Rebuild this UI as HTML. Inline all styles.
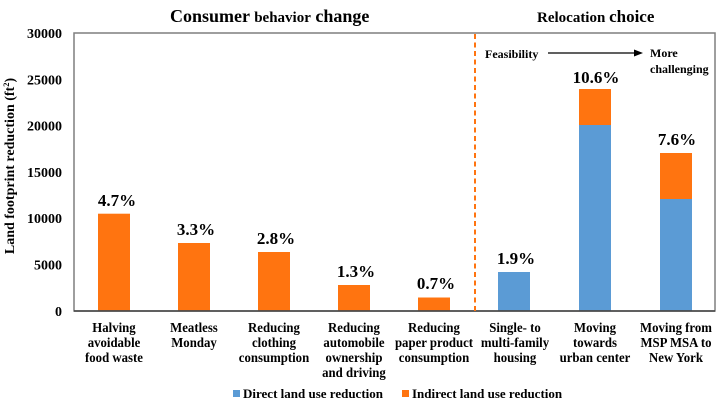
<!DOCTYPE html>
<html><head><meta charset="utf-8"><style>
html,body{margin:0;padding:0;background:#fff;}
svg{display:block;}
text{font-family:"Liberation Serif",serif;font-weight:bold;fill:#000;}
</style></head><body>
<svg width="720" height="404" viewBox="0 0 720 404" xmlns="http://www.w3.org/2000/svg">
<rect x="0" y="0" width="720" height="404" fill="#fff"/>
<!-- titles -->
<text x="170" y="22" font-size="18">Consumer <tspan font-size="15">behavior</tspan> change</text>
<text x="537" y="22" font-size="15">Relocation <tspan font-size="17">choice</tspan></text>
<!-- bars -->
<g fill="#FF7410">
<rect x="98" y="213.7" width="32" height="97.3"/>
<rect x="178" y="243" width="32" height="68"/>
<rect x="258" y="252" width="32" height="59"/>
<rect x="338" y="285" width="32" height="26"/>
<rect x="418" y="297.5" width="32" height="13.5"/>
<rect x="579" y="89" width="32" height="36"/>
<rect x="660" y="153" width="32" height="46"/>
</g>
<g fill="#5B9BD5">
<rect x="498" y="272" width="32" height="39"/>
<rect x="579" y="125" width="32" height="186"/>
<rect x="660" y="199" width="32" height="112"/>
</g>
<!-- frame -->
<rect x="74" y="33" width="641" height="278" fill="none" stroke="#7f7f7f" stroke-width="1.5"/>
<line x1="74" y1="311" x2="715" y2="311" stroke="#404040" stroke-width="1.5"/>
<!-- dashed divider -->
<line x1="475" y1="34" x2="475" y2="311" stroke="#FF7410" stroke-width="2" stroke-dasharray="5,3.5"/>
<!-- y ticks -->
<g font-size="14" text-anchor="end">
<text x="62" y="38">30000</text>
<text x="62" y="84.5">25000</text>
<text x="62" y="130.5">20000</text>
<text x="62" y="177">15000</text>
<text x="62" y="223">10000</text>
<text x="62" y="269.5">5000</text>
<text x="62" y="316">0</text>
</g>
<!-- y axis title -->
<text transform="translate(14,166) rotate(-90)" font-size="14" text-anchor="middle">Land footprint reduction (ft<tspan font-size="8.5" dy="-5">2</tspan><tspan dy="5">)</tspan></text>
<!-- percent labels -->
<g font-size="17" text-anchor="middle">
<text x="117" y="206">4.7%</text>
<text x="196" y="235">3.3%</text>
<text x="276" y="244">2.8%</text>
<text x="356" y="277">1.3%</text>
<text x="436" y="289">0.7%</text>
<text x="516" y="264">1.9%</text>
<text x="596" y="83">10.6%</text>
<text x="677" y="145">7.6%</text>
</g>
<!-- feasibility -->
<text x="485" y="58" font-size="12">Feasibility</text>
<line x1="548" y1="53" x2="636" y2="53" stroke="#000" stroke-width="1.3"/>
<polygon points="643,53 634,49.5 634,56.5" fill="#000"/>
<text x="650" y="57" font-size="12">More</text>
<text x="650" y="73" font-size="12">challenging</text>
<!-- x labels -->
<g font-size="12.8" text-anchor="middle" transform="matrix(1,0,0,1.07,0,-23.3)">
<text x="114" y="332.1">Halving</text>
<text x="114" y="346.1">avoidable</text>
<text x="114" y="360.1">food waste</text>
<text x="194" y="332.1">Meatless</text>
<text x="194" y="346.1">Monday</text>
<text x="274" y="332.1">Reducing</text>
<text x="274" y="346.1">clothing</text>
<text x="274" y="360.1">consumption</text>
<text x="354" y="332.1">Reducing</text>
<text x="354" y="346.1">automobile</text>
<text x="354" y="360.1">ownership</text>
<text x="354" y="374.1">and driving</text>
<text x="434" y="332.1">Reducing</text>
<text x="434" y="346.1">paper product</text>
<text x="434" y="360.1">consumption</text>
<text x="515" y="332.1">Single- to</text>
<text x="515" y="346.1">multi-family</text>
<text x="515" y="360.1">housing</text>
<text x="595" y="332.1">Moving</text>
<text x="595" y="346.1">towards</text>
<text x="595" y="360.1">urban center</text>
<text x="676" y="332.1">Moving from</text>
<text x="676" y="346.1">MSP MSA to</text>
<text x="676" y="360.1">New York</text>
</g>
<!-- legend -->
<rect x="233" y="390" width="7" height="7" fill="#5B9BD5"/>
<text x="243" y="398" font-size="13">Direct land use reduction</text>
<rect x="402" y="390" width="7" height="7" fill="#FF7410"/>
<text x="412" y="398" font-size="13">Indirect land use reduction</text>
</svg>
</body></html>
